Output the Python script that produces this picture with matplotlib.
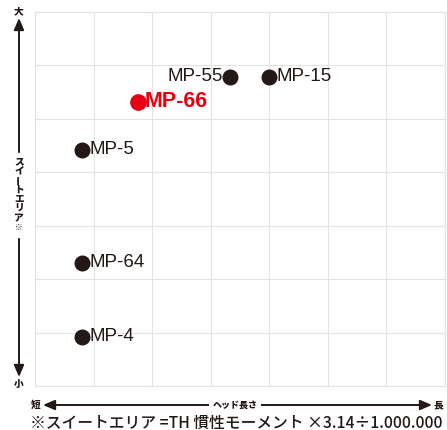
import numpy as np
import matplotlib.pyplot as plt

# head length (x) vs sweet area (y), in grid units 0..7
models = ["MP-55", "MP-15", "MP-66", "MP-5", "MP-64", "MP-4"]
head_len = [3.33, 4.0, 1.76, 0.81, 0.81, 0.81]
sweet_area = [5.79, 5.79, 5.32, 4.42, 2.31, 0.92]
highlight = "MP-66"

dark = "#231815"
red = "#e60012"
jp = ["Noto Sans CJK JP", "DejaVu Sans"]
lat = ["Liberation Sans", "DejaVu Sans"]

W, H = 447, 430
fig = plt.figure(figsize=(W / 100, H / 100), dpi=100)
ax = fig.add_axes([35 / W, (H - 386) / H, 410 / W, 374 / H])
ax.set_xlim(0, 7)
ax.set_ylim(0, 7)
ax.set_xticks(np.arange(8))
ax.set_yticks(np.arange(8))
ax.tick_params(length=0, labelbottom=False, labelleft=False)
ax.grid(True, color="#e3e3e3", linewidth=0.8)
for s in ax.spines.values():
    s.set_color("#e3e3e3")
    s.set_linewidth(0.8)

for m, x, y in zip(models, head_len, sweet_area):
    if m == highlight:
        ax.plot(x, y, "o", ms=11, color=red, zorder=3)
        ax.annotate(m, (x, y), xytext=(4.5, 0), textcoords="offset points",
                    ha="left", va="center", color=red, fontsize=15.5,
                    fontweight="bold", family=lat)
    else:
        ax.plot(x, y, "o", ms=10.5, color=dark, zorder=3)
        left = m == "MP-55"
        ax.annotate(m, (x, y), xytext=(-5 if left else 5, 0), textcoords="offset points",
                    ha="right" if left else "left", va="center", color=dark,
                    fontsize=13.5, family=lat)

def fx(px):
    return px / W

def fy(py):
    return 1 - py / H

arrow = dict(arrowstyle="<|-|>,head_length=0.7,head_width=0.3", color=dark, lw=1.4,
             shrinkA=0, shrinkB=0)

# vertical axis arrow
fig.add_artist(plt.Annotation("", xy=(fx(19), fy(18)), xytext=(fx(19), fy(377)),
                              xycoords="figure fraction", textcoords="figure fraction",
                              arrowprops=arrow))
fig.patches.append(plt.Rectangle((fx(12), fy(237)), 14 / W, 84 / H,
                                 transform=fig.transFigure, color="white", zorder=5))
vchars = ["ス", "イ", "ー", "ト", "エ", "リ", "ア", "※"]
vy = [161, 171, 180, 190, 199, 208, 218, 228]
for c, py in zip(vchars, vy):
    fig.text(fx(19), fy(py), c, ha="center", va="center", fontweight="black",
             family=jp, color=dark, rotation=90 if c == "ー" else 0, zorder=6,
             fontsize=5.5 if c == "※" else 7)
fig.text(fx(19), fy(11), "大", ha="center", va="center", fontsize=7, fontweight="black",
         family=jp, color=dark)
fig.text(fx(19), fy(384), "小", ha="center", va="center", fontsize=7, fontweight="black",
         family=jp, color=dark)

# horizontal axis arrow
fig.add_artist(plt.Annotation("", xy=(fx(43), fy(405)), xytext=(fx(432), fy(405)),
                              xycoords="figure fraction", textcoords="figure fraction",
                              arrowprops=arrow))
fig.text(fx(36), fy(405), "短", ha="center", va="center", fontsize=7, fontweight="black",
         family=jp, color=dark)
fig.text(fx(439), fy(405), "長", ha="center", va="center", fontsize=7, fontweight="black",
         family=jp, color=dark)
fig.text(fx(235), fy(405), "ヘッド長さ", ha="center", va="center", fontsize=6.5,
         fontweight="black", family=jp, color=dark, zorder=6,
         bbox=dict(facecolor="white", edgecolor="none", pad=2.5))

fig.text(fx(30), fy(423), "※スイートエリア =TH 慣性モーメント ×3.14÷1.000.000",
         ha="left", va="center", fontsize=11.3, fontweight="medium", family=jp, color=dark)

fig.savefig("out.png", dpi=100)
